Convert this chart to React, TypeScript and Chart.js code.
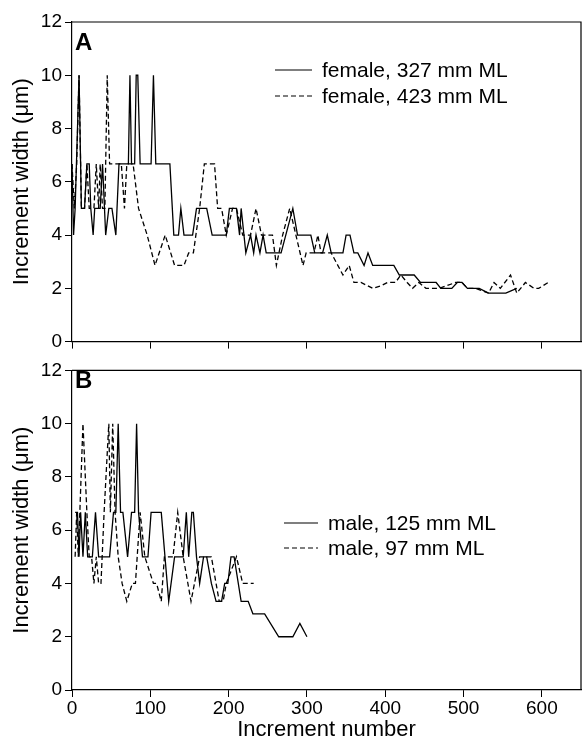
import React, { useEffect, useRef } from "react";
import { Chart, registerables } from "chart.js";

Chart.register(...registerables);

const FONT = "'Liberation Sans', Arial, Helvetica, sans-serif";

// Shared axis ticks
const xTickValues = [0, 100, 200, 300, 400, 500, 600];
const yTickValues = [0, 2, 4, 6, 8, 10, 12];

// Panel A
const panelALabel = "A";
const femaleSmallLabel = "female, 327 mm ML";
const femaleSmallX = [0, 2, 4, 9, 12, 16, 19, 22, 24, 27, 29, 36, 39, 43, 47, 51, 56, 60, 72, 74, 76, 80, 82, 84, 87, 101, 104, 107, 125, 130, 136, 139, 143, 154, 159, 172, 179, 197, 201, 210, 214, 216, 222, 228, 232, 235, 240, 244, 248, 267, 273, 282, 288, 305, 310, 320, 326, 331, 346, 350, 355, 360, 365, 373, 378, 384, 411, 418, 437, 445, 465, 471, 485, 492, 498, 505, 520, 532, 554, 568];
const femaleSmallY = [6.67, 4, 5, 10, 5, 5, 6.67, 6.67, 5, 4, 5, 5, 6.67, 4, 5, 5, 4, 6.67, 6.67, 10, 6.67, 6.67, 10, 10, 6.67, 6.67, 10, 6.67, 6.67, 4, 4, 5, 4, 4, 5, 5, 4, 4, 5, 5, 4, 5, 3.33, 4, 3.33, 4, 3.33, 4, 3.33, 3.33, 4, 5, 4, 4, 3.33, 3.33, 4, 3.33, 3.33, 4, 4, 3.33, 3.33, 2.86, 3.33, 2.86, 2.86, 2.5, 2.5, 2.22, 2.22, 2, 2, 2.22, 2.22, 2, 2, 1.82, 1.82, 2];

const femaleLargeLabel = "female, 423 mm ML";
const femaleLargeX = [0, 3, 6, 9, 12, 16, 19, 22, 25, 28, 31, 34, 36, 39, 42, 45, 48, 63, 67, 70, 78, 85, 96, 106, 119, 131, 143, 149, 155, 163, 169, 182, 186, 191, 197, 205, 210, 218, 228, 235, 242, 256, 261, 269, 278, 295, 299, 305, 309, 314, 318, 331, 346, 354, 360, 369, 384, 395, 403, 413, 420, 428, 435, 443, 452, 469, 490, 498, 505, 515, 532, 539, 547, 560, 568, 579, 590, 596, 608];
const femaleLargeY = [6.67, 5, 6.67, 10, 5, 5, 6.67, 5, 5, 5, 6.67, 5, 6.67, 5, 5, 10, 6.67, 6.67, 5, 6.67, 6.67, 5, 4, 2.86, 4, 2.86, 2.86, 3.33, 3.33, 5, 6.67, 6.67, 5, 5, 4, 5, 5, 4, 4, 5, 4, 4, 2.86, 4, 5, 2.86, 3.33, 3.33, 3.33, 4, 3.33, 3.33, 2.5, 2.86, 2.22, 2.22, 2, 2.1, 2.22, 2.22, 2.5, 2.22, 2, 2.22, 2, 2, 2.22, 2.22, 2, 2, 1.82, 2.22, 2, 2.5, 1.82, 2.22, 2, 2, 2.22];

// Panel B
const panelBLabel = "B";
const maleLargeLabel = "male, 125 mm ML";
const maleLargeX = [4, 7, 9, 11, 14, 17, 20, 26, 30, 34, 48, 53, 56, 59, 62, 65, 71, 76, 80, 82.5, 85, 90, 97, 101, 114, 123.5, 131, 142, 146, 149, 153, 155, 159, 163, 168, 172, 178, 184, 191, 195, 199, 203, 207, 216, 225, 231, 246, 264, 282, 291, 300];
const maleLargeY = [6.67, 6.67, 5, 6.67, 5, 6.67, 5, 5, 6.67, 5, 5, 6.67, 6.67, 10, 6.67, 6.67, 5, 6.67, 6.67, 10, 6.67, 5, 5, 6.67, 6.67, 3.33, 5, 5, 6.67, 5, 6.67, 6.67, 5, 4, 5, 5, 4, 3.33, 3.33, 4, 4, 5, 5, 3.33, 3.33, 2.86, 2.86, 2, 2, 2.5, 2];

const maleSmallLabel = "male, 97 mm ML";
const maleSmallX = [4, 6, 8, 10, 14, 19, 22, 25, 28, 31, 34, 37, 41, 47, 49, 52, 55, 59, 64, 70, 77, 81, 87, 93, 104, 108, 114, 118, 129, 135, 142, 152, 163, 178, 188, 193, 197, 210, 218, 232];
const maleSmallY = [5, 6.67, 5, 6.67, 10, 6.67, 5, 5, 4, 5, 4, 4, 6.67, 10, 6.67, 10, 6.67, 5, 4, 3.33, 4, 4, 6.67, 5, 4, 4, 3.33, 5, 5, 6.67, 5, 3.33, 5, 5, 3.33, 3.33, 4, 5, 4, 4];

const toPoints = (xs: number[], ys: number[]) => xs.map((x, i) => ({ x, y: ys[i] }));

const decoPlugin = {
  id: "panelDeco",
  afterDraw(chart: any, _args: any, opts: any) {
    const { ctx, chartArea } = chart;
    ctx.save();
    // frame (top and right)
    ctx.strokeStyle = "#000";
    ctx.lineWidth = 1.2;
    ctx.beginPath();
    ctx.moveTo(chartArea.left, chartArea.top);
    ctx.lineTo(chartArea.right, chartArea.top);
    ctx.lineTo(chartArea.right, chartArea.bottom);
    ctx.stroke();
    // panel letter
    ctx.fillStyle = "#000";
    ctx.font = `bold 24px ${FONT}`;
    ctx.textAlign = "left";
    ctx.textBaseline = "middle";
    ctx.fillText(opts.letter, opts.letterX, opts.letterY);
    // legend
    ctx.font = `21px ${FONT}`;
    chart.data.datasets.forEach((ds: any, i: number) => {
      const y = opts.legendY[i];
      ctx.beginPath();
      ctx.lineWidth = 1.2;
      ctx.setLineDash(ds.borderDash || []);
      ctx.moveTo(opts.legendX, y);
      ctx.lineTo(opts.legendX + opts.sampleW, y);
      ctx.stroke();
      ctx.setLineDash([]);
      ctx.fillText(ds.label, opts.legendX + opts.sampleW + 10, y + 1);
    });
    ctx.restore();
  },
};

type PanelProps = {
  top: number;
  height: number;
  padTop: number;
  xAxisHeight: number;
  showXLabels: boolean;
  datasets: any[];
  deco: any;
};

function Panel({ top, height, padTop, xAxisHeight, showXLabels, datasets, deco }: PanelProps) {
  const ref = useRef<HTMLCanvasElement | null>(null);
  useEffect(() => {
    if (!ref.current) return;
    const chart = new Chart(ref.current, {
      type: "line",
      data: { datasets },
      plugins: [decoPlugin],
      options: {
        animation: false,
        responsive: false,
        devicePixelRatio: 1,
        layout: { padding: { top: padTop, left: 0, right: 1, bottom: 0 } },
        plugins: {
          legend: { display: false },
          tooltip: { enabled: false },
          panelDeco: deco,
        } as any,
        elements: { point: { radius: 0 }, line: { tension: 0 } },
        scales: {
          x: {
            type: "linear",
            min: 0,
            max: 650,
            afterBuildTicks: (s: any) => {
              s.ticks = xTickValues.map((v) => ({ value: v }));
            },
            afterFit: (s: any) => {
              s.height = xAxisHeight;
            },
            ticks: {
              display: showXLabels,
              color: "#000",
              font: { family: FONT, size: 19 },
              padding: 0,
              maxRotation: 0,
            },
            grid: { drawOnChartArea: false, drawTicks: true, tickLength: 7, color: "#000", lineWidth: 1 },
            border: { display: true, color: "#000", width: 1.2 },
            title: {
              display: showXLabels,
              text: "Increment number",
              color: "#000",
              font: { family: FONT, size: 22 },
              padding: { top: 0, bottom: 0 },
            },
          },
          y: {
            type: "linear",
            min: 0,
            max: 12,
            afterBuildTicks: (s: any) => {
              s.ticks = yTickValues.map((v) => ({ value: v }));
            },
            afterFit: (s: any) => {
              s.width = 72;
            },
            ticks: { color: "#000", font: { family: FONT, size: 19 }, padding: 3 },
            grid: { drawOnChartArea: false, drawTicks: true, tickLength: 7, color: "#000", lineWidth: 1 },
            border: { display: true, color: "#000", width: 1.2 },
            title: {
              display: true,
              text: "Increment width (\u03bcm)",
              color: "#000",
              font: { family: FONT, size: 22 },
              padding: { top: 9, bottom: 0 },
            },
          },
        },
      } as any,
    });
    return () => chart.destroy();
  }, []);
  return (
    <canvas
      ref={ref}
      width={582}
      height={height}
      style={{ position: "absolute", left: 0, top, width: 582, height }}
    />
  );
}

export default function App() {
  const solid = { borderColor: "#000", borderWidth: 1.3, pointRadius: 0, fill: false };
  const dashed = { ...solid, borderDash: [5, 3] };
  const dsA = [
    { ...solid, label: femaleSmallLabel, data: toPoints(femaleSmallX, femaleSmallY) },
    { ...dashed, label: femaleLargeLabel, data: toPoints(femaleLargeX, femaleLargeY) },
  ];
  const dsB = [
    { ...solid, label: maleLargeLabel, data: toPoints(maleLargeX, maleLargeY) },
    { ...dashed, label: maleSmallLabel, data: toPoints(maleSmallX, maleSmallY) },
  ];
  return (
    <div style={{ position: "absolute", left: 0, top: 0, width: 582, height: 743, background: "#fff" }}>
      <Panel
        top={0}
        height={356}
        padTop={22}
        xAxisHeight={13}
        showXLabels={false}
        datasets={dsA}
        deco={{ letter: panelALabel, letterX: 75, letterY: 43, legendX: 275, sampleW: 37, legendY: [70, 96] }}
      />
      <Panel
        top={356}
        height={387}
        padTop={13}
        xAxisHeight={53}
        showXLabels={true}
        datasets={dsB}
        deco={{ letter: panelBLabel, letterX: 75, letterY: 25, legendX: 284, sampleW: 34, legendY: [167, 192] }}
      />
    </div>
  );
}
